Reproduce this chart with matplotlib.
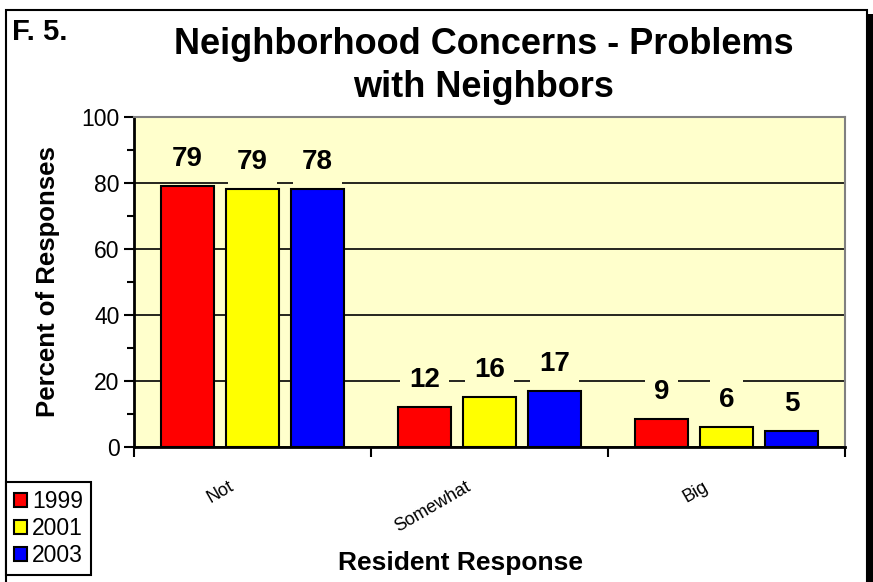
import numpy as np
import matplotlib.pyplot as plt
from matplotlib.patches import Rectangle
from matplotlib.transforms import offset_copy

plt.rcParams['font.family'] = ['Liberation Sans', 'DejaVu Sans']

categories = ['Not', 'Somewhat', 'Big']
years = ['1999', '2001', '2003']
values = {
    '1999': [79.0, 12.1, 8.5],
    '2001': [78.2, 15.3, 6.0],
    '2003': [78.2, 16.9, 4.8],
}
value_labels = {
    '1999': ['79', '12', '9'],
    '2001': ['79', '16', '6'],
    '2003': ['78', '17', '5'],
}
colors = ['#FF0000', '#FFFF00', '#0000FF']

fig = plt.figure(figsize=(8.73, 5.82), dpi=100)
ax = fig.add_axes([134 / 873, 1 - 447 / 582, 711 / 873, 330 / 582])
ax.set_facecolor('#FFFFCC')
ax.set_axisbelow(True)

x = np.arange(len(categories))
width = 0.22
step = 0.274

for i, year in enumerate(years):
    pos = x + (i - 1) * step
    bars = ax.bar(pos, values[year], width, color=colors[i], edgecolor='black',
                  linewidth=1.5, label=year, zorder=2)
    for b, txt in zip(bars, value_labels[year]):
        ax.annotate(txt, (b.get_x() + b.get_width() / 2, b.get_height()),
                    xytext=(0, 10), textcoords='offset points',
                    ha='center', va='bottom', fontsize=20, fontweight='bold',
                    zorder=4,
                    bbox=dict(boxstyle='square,pad=0.33', fc='#FFFFCC', ec='none'))

ax.set_xlim(-0.5, 2.5)
ax.set_ylim(0, 100)
ax.set_yticks(np.arange(0, 101, 20))
ax.set_yticks(np.arange(10, 100, 20), minor=True)
ax.yaxis.grid(True, which='major', color='black', linewidth=1.2)
ax.tick_params(axis='y', which='major', labelsize=16.5, length=7, width=1.5, direction='out')
ax.tick_params(axis='y', which='minor', length=5, width=1.5, direction='out')

ax.set_xticks([-0.5, 0.5, 1.5, 2.5])
ax.set_xticklabels([])
ax.tick_params(axis='x', length=7, width=1.5, direction='out')

# rotated category labels
for xi, cat in zip(x, categories):
    tr = offset_copy(ax.transData, fig=fig, x=-24, y=-31, units='dots')
    ax.text(xi, 0, cat, transform=tr, rotation=30, rotation_mode='anchor',
            ha='right', va='top', fontsize=13, clip_on=False)

for side in ['left', 'bottom']:
    ax.spines[side].set_linewidth(2)
    ax.spines[side].set_color('black')
for side in ['top', 'right']:
    ax.spines[side].set_linewidth(1.5)
    ax.spines[side].set_color('#808080')

ax.set_ylabel('Percent of Responses', fontsize=18.5, fontweight='bold')
ax.yaxis.set_label_coords(-(134 - 60) / 711, 0.5)
fig.text(460 / 873, 1 - 563 / 582, 'Resident Response', ha='center', va='center',
         fontsize=19, fontweight='bold')

fig.text(484 / 873, 1 - 66 / 582, 'Neighborhood Concerns - Problems\nwith Neighbors',
         ha='center', va='center', fontsize=26, fontweight='bold', linespacing=1.3)
fig.text(12 / 873, 1 - 32 / 582, 'F. 5.', ha='left', va='center',
         fontsize=21, fontweight='bold')

leg = fig.legend(loc='upper left', bbox_to_anchor=(6 / 873, 1 - 482 / 582),
                 fontsize=16.5, frameon=True, fancybox=False, edgecolor='black',
                 framealpha=1, handlelength=0.55, handleheight=0.55,
                 handletextpad=0.25, labelspacing=0.17, borderpad=0.35,
                 borderaxespad=0)
leg.get_frame().set_linewidth(1.5)

# chart border with shadow on the right
fig.patches.append(Rectangle((6 / 873, -0.1), 861 / 873, 1 - 10 / 582 + 0.1,
                             transform=fig.transFigure, fill=False,
                             edgecolor='black', linewidth=1.5))
fig.patches.append(Rectangle((867 / 873, -0.1), 6 / 873, 1 - 14 / 582 + 0.1,
                             transform=fig.transFigure, facecolor='black',
                             edgecolor='none'))

fig.savefig('out.png', dpi=100)
